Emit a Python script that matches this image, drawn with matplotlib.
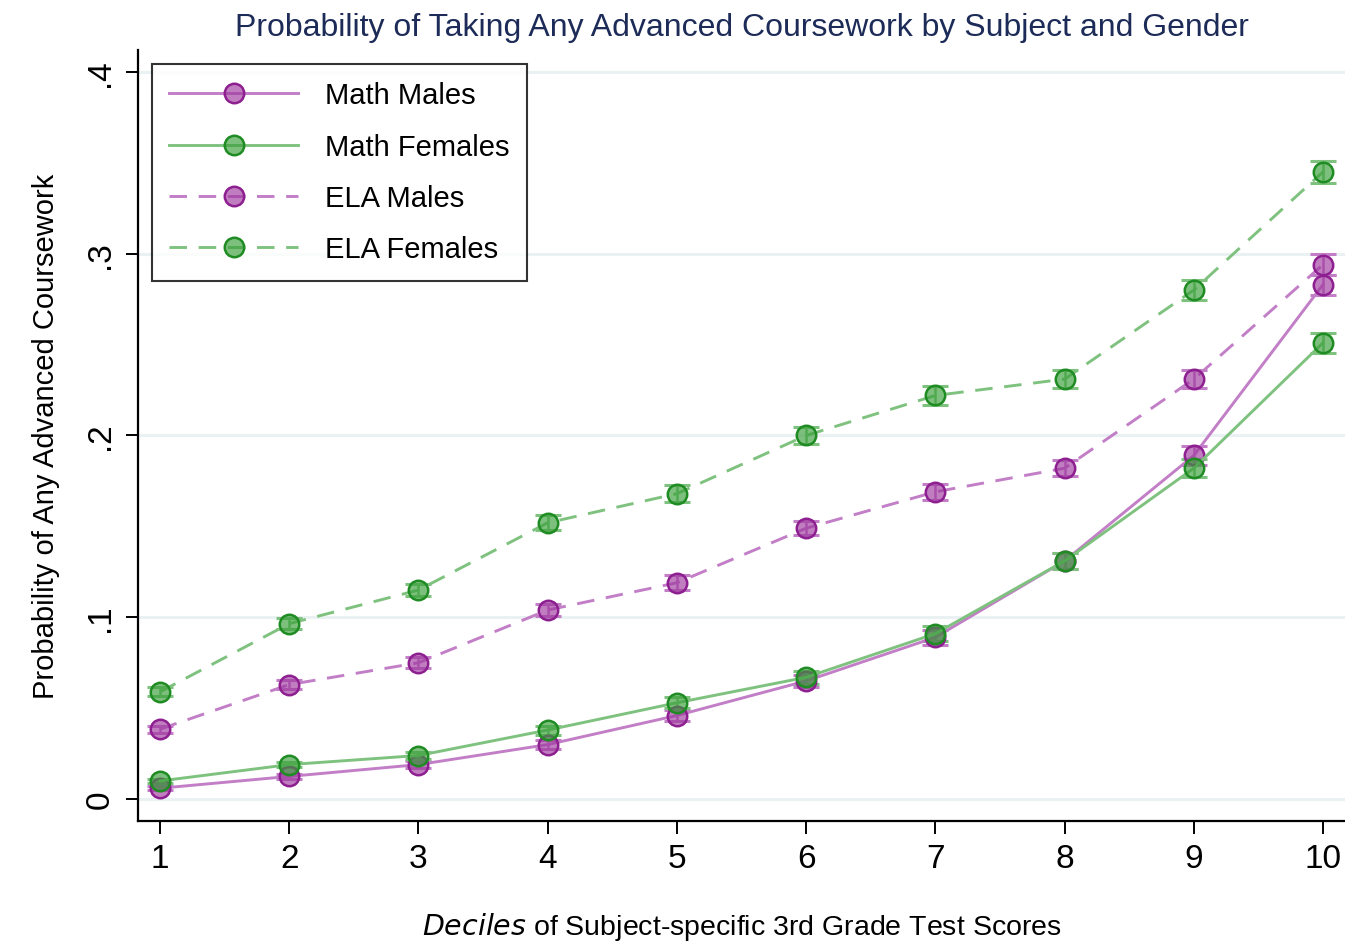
import numpy as np
import matplotlib.pyplot as plt
from matplotlib import font_manager

deciles = np.arange(1, 11)

math_males = [0.006, 0.0125, 0.019, 0.030, 0.046, 0.065, 0.089, 0.131, 0.189, 0.283]
math_females = [0.010, 0.019, 0.024, 0.038, 0.053, 0.067, 0.091, 0.131, 0.182, 0.251]
ela_males = [0.0385, 0.063, 0.075, 0.104, 0.119, 0.149, 0.169, 0.182, 0.231, 0.294]
ela_females = [0.059, 0.0965, 0.115, 0.152, 0.168, 0.200, 0.222, 0.231, 0.280, 0.345]

# half-widths of the confidence intervals
math_males_ci = [0.001, 0.0015, 0.002, 0.0025, 0.003, 0.0035, 0.004, 0.0045, 0.005, 0.0055]
math_females_ci = [0.001, 0.0015, 0.002, 0.0025, 0.003, 0.0035, 0.004, 0.0045, 0.005, 0.0055]
ela_males_ci = [0.002, 0.0025, 0.003, 0.0035, 0.004, 0.004, 0.0045, 0.0045, 0.005, 0.006]
ela_females_ci = [0.0025, 0.003, 0.0035, 0.004, 0.0045, 0.0045, 0.005, 0.005, 0.0055, 0.006]

y_ticks = [0, 0.1, 0.2, 0.3, 0.4]
y_tick_labels = ["0", ".1", ".2", ".3", ".4"]


def pick_font():
    names = {f.name for f in font_manager.fontManager.ttflist}
    for name in ["Liberation Sans Narrow", "Liberation Sans", "DejaVu Sans"]:
        if name in names:
            return name
    return "DejaVu Sans"


def main():
    plt.rcParams["font.family"] = [pick_font(), "DejaVu Sans"]

    PURPLE_LINE = "#c27ec6"
    PURPLE_FILL = (0.62, 0.22, 0.62, 0.65)
    PURPLE_EDGE = "#8e1f90"
    GREEN_LINE = "#7fc27f"
    GREEN_FILL = (0.22, 0.62, 0.22, 0.65)
    GREEN_EDGE = "#1f8c23"
    DASH = (0, (6, 4))

    fig = plt.figure(figsize=(13.45, 9.45), dpi=100)
    ax = fig.add_axes([0.1026, 0.1302, 0.8974, 0.8158])

    for v in y_ticks:
        ax.axhline(v, color="#eaf1f3", lw=2.2, zorder=0)

    series = [
        ("Math Males", math_males, math_males_ci, PURPLE_LINE, PURPLE_FILL, PURPLE_EDGE, "-"),
        ("Math Females", math_females, math_females_ci, GREEN_LINE, GREEN_FILL, GREEN_EDGE, "-"),
        ("ELA Males", ela_males, ela_males_ci, PURPLE_LINE, PURPLE_FILL, PURPLE_EDGE, DASH),
        ("ELA Females", ela_females, ela_females_ci, GREEN_LINE, GREEN_FILL, GREEN_EDGE, DASH),
    ]

    for label, vals, ci, lc, fc, ec, ls in series:
        ax.errorbar(deciles, vals, yerr=ci, fmt="none", ecolor=lc, elinewidth=1.8,
                    capsize=9.5, capthick=2.2, zorder=2)
        ax.plot(deciles, vals, color=lc, lw=2.1, ls=ls, marker="o", markersize=14,
                markerfacecolor=fc, markeredgecolor=ec, markeredgewidth=1.8,
                label=label, zorder=3)

    ax.set_xlim(0.83, 10.17)
    ax.set_ylim(-0.012, 0.412)
    ax.set_xticks(deciles)
    ax.set_xticklabels([str(d) for d in deciles], fontsize=24)
    ax.set_yticks(y_ticks)
    ax.set_yticklabels(y_tick_labels, fontsize=24, rotation=90, va="center")
    ax.tick_params(axis="both", direction="out", length=9, width=1.4, color="black", pad=7)

    for side in ["top", "right"]:
        ax.spines[side].set_visible(False)
    for side in ["left", "bottom"]:
        ax.spines[side].set_linewidth(1.6)
        ax.spines[side].set_color("black")

    ax.set_title("Probability of Taking Any Advanced Coursework by Subject and Gender",
                 fontsize=23, color="#1c2b57", pad=11)
    ax.set_ylabel("Probability of Any Advanced Coursework", fontsize=21, labelpad=18)
    ax.set_xlabel("$\\it{Deciles}$ of Subject-specific 3rd Grade Test Scores", fontsize=20.5, labelpad=26)

    leg = ax.legend(loc="upper left", bbox_to_anchor=(0.0115, 0.982), fontsize=21,
                    frameon=True, fancybox=False, handlelength=4.4, borderpad=0.6,
                    labelspacing=0.8, handletextpad=0.95, borderaxespad=0)
    leg.get_frame().set_edgecolor("black")
    leg.get_frame().set_linewidth(1.5)

    fig.set_facecolor("white")
    plt.savefig("out.png", dpi=100, facecolor="white")


if __name__ == "__main__":
    main()
